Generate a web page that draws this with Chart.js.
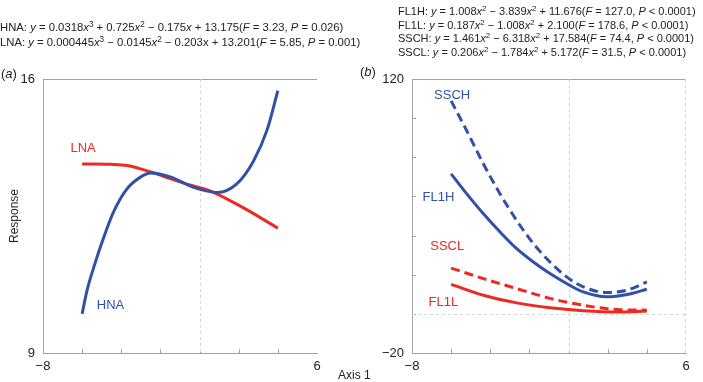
<!DOCTYPE html>
<html>
<head>
<meta charset="utf-8">
<script src="https://cdn.jsdelivr.net/npm/chart.js@4/dist/chart.umd.min.js"></script>
<style>
  body { margin: 0; background: #fff; font-family: "Liberation Sans", Arial, sans-serif; color: #222; }
  #wrap { position: relative; width: 703px; height: 382px; overflow: hidden; }
  canvas { position: absolute; top: 0; }
  .eq { position: absolute; font-size: 11px; white-space: nowrap; line-height: 14px; }
  .eq i { font-style: italic; }
  .eq sup { font-size: 0.72em; line-height: 0; vertical-align: 0.45em; }
  .tag { position: absolute; font-size: 13px; }
  .ttl { position: absolute; font-size: 12px; white-space: nowrap; }
</style>
</head>
<body>
<div id="wrap">
  <canvas id="chartA" width="351" height="382" style="left:0"></canvas>
  <canvas id="chartB" width="352" height="382" style="left:351px"></canvas>

  <div class="eq" style="left:0; top:20px; line-height:15px; font-size:11.3px">
    HNA: <i>y</i> = 0.0318<i>x</i><sup>3</sup> + 0.725<i>x</i><sup>2</sup> &minus; 0.175<i>x</i> + 13.175(<i>F</i> = 3.23, <i>P</i> = 0.026)<br>
    LNA: <i>y</i> = 0.000445<i>x</i><sup>3</sup> &minus; 0.0145<i>x</i><sup>2</sup> &minus; 0.203x + 13.201(<i>F</i> = 5.85, <i>P</i> = 0.001)
  </div>
  <div class="eq" style="left:398px; top:5px; line-height:13.5px">
    FL1H: <i>y</i> = 1.008<i>x</i><sup>2</sup> &minus; 3.839<i>x</i><sup>2</sup> + 11.676(<i>F</i> = 127.0, <i>P</i> &lt; 0.0001)<br>
    FL1L: <i>y</i> = 0.187<i>x</i><sup>2</sup> &minus; 1.008<i>x</i><sup>2</sup> + 2.100(<i>F</i> = 178.6, <i>P</i> &lt; 0.0001)<br>
    SSCH: <i>y</i> = 1.461<i>x</i><sup>2</sup> &minus; 6.318<i>x</i><sup>2</sup> + 17.584(<i>F</i> = 74.4, <i>P</i> &lt; 0.0001)<br>
    SSCL: <i>y</i> = 0.206<i>x</i><sup>2</sup> &minus; 1.784<i>x</i><sup>2</sup> + 5.172(<i>F</i> = 31.5, <i>P</i> &lt; 0.0001)
  </div>

  <div class="tag" style="left:1px; top:66px">(<i>a</i>)</div>
  <div class="tag" style="left:360px; top:64px">(<i>b</i>)</div>
  <div class="ttl" style="left:-13px; top:209px; transform:rotate(-90deg)">Response</div>
  <div class="ttl" style="left:338px; top:368px">Axis 1</div>
</div>

<script>
// ---- data ----
var xTicks = [-8, -6, -4, -2, 0, 2, 4, 6];
var yTicksA = [9, 16];
var yTicksB = [-20, 0, 20, 40, 60, 80, 100, 120];

// panel (a)
var hnaX = [-6.0, -5.75, -5.4, -4.9, -4.4, -3.7, -3.0, -2.5, -1.5, -0.3, 0.9, 1.9, 2.75, 3.45, 4.0];
var hnaY = [10.0, 10.6, 11.2, 11.95, 12.6, 13.2, 13.5, 13.6, 13.5, 13.23, 13.1, 13.32, 13.9, 14.7, 15.7];
var lnaX = [-6.0, -4.5, -3.7, -2.4, -0.7, 0.5, 2.2, 4.0];
var lnaY = [13.83, 13.82, 13.79, 13.61, 13.32, 13.15, 12.72, 12.19];

// panel (b)
var highX = [-6, -5.2, -4.35, -3.5, -2.65, -1.8, -0.95, -0.1, 0.75, 1.95, 3.0, 4.0];
var ssch = [108.8, 93.5, 76.6, 61.3, 47.7, 35.9, 26.5, 18.9, 13.8, 10.9, 12.1, 16.3];
var fl1h = [71.5, 61.3, 51.1, 41.8, 33.3, 26.5, 20.6, 15.5, 11.2, 8.7, 9.9, 12.6];
var lowX = [-6, -4.35, -2.65, -0.95, 0.75, 2.45, 4.0];
var sscl = [23.4, 18.0, 12.9, 7.9, 4.4, 2.2, 1.9];
var fl1l = [15.1, 9.5, 5.6, 3.1, 1.6, 0.9, 1.4];

var BLUE = '#3150a6';
var RED = '#ec2a22';
var AXIS = '#a3a3a3';
var FONT = '"Liberation Sans", Arial, sans-serif';

var labelsA = [
  { text: 'LNA', x: -5.95, y: 14.22, color: RED },
  { text: 'HNA', x: -4.55, y: 10.22, color: BLUE }
];
var labelsB = [
  { text: 'SSCH', x: -5.95, y: 111.4, color: BLUE },
  { text: 'FL1H', x: -6.65, y: 59.4, color: BLUE },
  { text: 'SSCL', x: -6.2, y: 34.5, color: RED },
  { text: 'FL1L', x: -6.4, y: 6.0, color: RED }
];

function pts(xs, ys) {
  return xs.map(function(x, i) { return { x: x, y: ys[i] }; });
}
function fmt(v) {
  return v < 0 ? '\u2212' + Math.abs(v) : String(v);
}
function line(xs, ys, color, dashed) {
  return {
    data: pts(xs, ys),
    showLine: true,
    borderColor: color,
    borderWidth: 3,
    borderDash: dashed ? [9, 5] : [],
    pointRadius: 0,
    cubicInterpolationMode: 'monotone',
    fill: false
  };
}

// draws the frame bits the reference has: top rule, inward ticks, dashed zero lines, curve names
var framePlugin = {
  id: 'frame',
  beforeDatasetsDraw: function(chart, args, o) {
    var ctx = chart.ctx, a = chart.chartArea, xs = chart.scales.x, ys = chart.scales.y;
    ctx.save();
    ctx.strokeStyle = AXIS;
    ctx.lineWidth = 1;
    ctx.beginPath();
    ctx.moveTo(a.left, Math.round(a.top) + 0.5);
    ctx.lineTo(a.right, Math.round(a.top) + 0.5);
    xs.ticks.forEach(function(t) {
      var px = Math.round(xs.getPixelForValue(t.value)) + 0.5;
      if (px > a.left + 2 && px < a.right - 2) {
        ctx.moveTo(px, a.bottom);
        ctx.lineTo(px, a.bottom - 4);
      }
    });
    if (o.yTicks) {
      ys.ticks.forEach(function(t) {
        var py = Math.round(ys.getPixelForValue(t.value)) + 0.5;
        if (py > a.top + 2 && py < a.bottom - 2) {
          ctx.moveTo(a.left, py);
          ctx.lineTo(a.left + 4, py);
        }
      });
    }
    ctx.stroke();

    ctx.strokeStyle = '#d6d6d6';
    ctx.setLineDash([3, 3]);
    ctx.beginPath();
    var zx = Math.round(xs.getPixelForValue(0)) + 0.5;
    ctx.moveTo(zx, a.top);
    ctx.lineTo(zx, a.bottom);
    if (o.zeroY) {
      var zy = Math.round(ys.getPixelForValue(0)) + 0.5;
      ctx.moveTo(a.left, zy);
      ctx.lineTo(a.right, zy);
    }
    if (o.rightEdge) {
      ctx.moveTo(Math.round(a.right) - 0.5, a.top);
      ctx.lineTo(Math.round(a.right) - 0.5, a.bottom);
    }
    ctx.stroke();
    ctx.restore();
  },
  afterDatasetsDraw: function(chart, args, o) {
    var ctx = chart.ctx, xs = chart.scales.x, ys = chart.scales.y;
    ctx.save();
    ctx.font = '13px ' + FONT;
    ctx.textAlign = 'center';
    ctx.textBaseline = 'middle';
    (o.labels || []).forEach(function(l) {
      ctx.fillStyle = l.color;
      ctx.fillText(l.text, xs.getPixelForValue(l.x), ys.getPixelForValue(l.y));
    });
    ctx.restore();
  }
};

function makeOptions(yMin, yMax, yTickList, yWidth, rightPad, frame) {
  return {
    responsive: false,
    animation: false,
    layout: { padding: { left: 0, top: 79, right: rightPad, bottom: 0 } },
    plugins: { legend: { display: false }, tooltip: { enabled: false }, frame: frame },
    scales: {
      x: {
        type: 'linear', min: -8, max: 6,
        afterBuildTicks: function(s) { s.ticks = xTicks.map(function(v) { return { value: v }; }); },
        afterFit: function(s) { s.height = 29; },
        grid: { display: false, drawTicks: false },
        border: { color: AXIS, width: 1 },
        ticks: {
          padding: 6, color: '#222', autoSkip: false, maxRotation: 0,
          font: { size: 13, family: FONT },
          callback: function(v) { return (v === -8 || v === 6) ? fmt(v) : ''; }
        }
      },
      y: {
        type: 'linear', min: yMin, max: yMax,
        afterBuildTicks: function(s) { s.ticks = yTickList.map(function(v) { return { value: v }; }); },
        afterFit: function(s) { s.width = yWidth; },
        grid: { display: false, drawTicks: false },
        border: { color: AXIS, width: 1 },
        ticks: {
          padding: 8, color: '#222', autoSkip: false,
          font: { size: 13, family: FONT },
          callback: function(v) { return (v === yMin || v === yMax) ? fmt(v) : ''; }
        }
      }
    }
  };
}

new Chart(document.getElementById('chartA').getContext('2d'), {
  type: 'scatter',
  data: {
    datasets: [
      line(hnaX, hnaY, BLUE, false),
      line(lnaX, lnaY, RED, false)
    ]
  },
  options: makeOptions(9, 16, yTicksA, 43, 34, { yTicks: false, zeroY: false, rightEdge: false, labels: labelsA }),
  plugins: [framePlugin]
});

new Chart(document.getElementById('chartB').getContext('2d'), {
  type: 'scatter',
  data: {
    datasets: [
      line(highX, ssch, BLUE, true),
      line(highX, fl1h, BLUE, false),
      line(lowX, sscl, RED, true),
      line(lowX, fl1l, RED, false)
    ]
  },
  options: makeOptions(-20, 120, yTicksB, 61, 17, { yTicks: true, zeroY: true, rightEdge: true, labels: labelsB }),
  plugins: [framePlugin]
});
</script>
</body>
</html>
